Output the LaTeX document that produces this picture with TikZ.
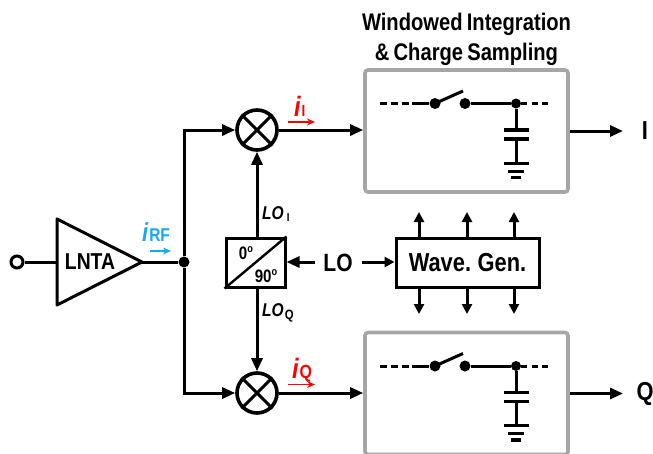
\documentclass[tikz,border=0pt]{standalone}
\usepackage{fontspec}
\setmainfont{Liberation Sans}[FakeStretch=0.84,WordSpace=0.75]
\usetikzlibrary{arrows.meta}
\definecolor{boxgray}{RGB}{166,166,166}
\definecolor{rfblue}{RGB}{20,170,235}
\definecolor{ired}{RGB}{255,0,0}
\tikzset{
  wire/.style={line width=3pt,line join=miter},
  arr/.style={wire,-{Triangle[width=11pt,length=13pt]}},
  smallarr/.style={wire,-{Triangle[width=10pt,length=10pt]}},
  blockbox/.style={draw,line width=3pt,inner sep=0pt},
  graybox/.style={draw=boxgray,line width=3.6pt,rounded corners=3pt,inner sep=0pt,minimum width=203pt,minimum height=122pt},
  mixer/.style={draw,circle,line width=3.6pt,minimum size=40pt,inner sep=0pt},
  dotnode/.style={fill,circle,inner sep=0pt,minimum size=#1},
  txt/.style={font=\bfseries\fontsize{#1}{#1}\selectfont,inner sep=0pt},
  itxt/.style={font=\bfseries\itshape\fontsize{#1}{#1}\selectfont,inner sep=0pt},
  cur/.style={line width=1.5pt,-{Stealth[width=7pt,length=8pt]}},
}
\begin{document}
\begin{tikzpicture}[x=1pt,y=-1pt]
\useasboundingbox (0,0) rectangle (653,453);
% input and LNTA
\node[draw,circle,line width=3pt,minimum size=12pt,inner sep=0pt] (in) at (17,262) {};
\coordinate (ta) at (57,219);
\coordinate (tb) at (57,305);
\coordinate (tc) at (142,262);
\coordinate (tin) at (57,262);
\draw[line width=3pt,line join=round] (ta) -- (tc) -- (tb) -- cycle;
\node[txt=23] (lnta) at (90,262) {LNTA};
\node[dotnode=11pt] (j) at (184,262) {};
\draw[wire] (in) -- (tin);
\draw[wire] (tc) -- (j);
% mixers
\node[mixer] (mi) at (257,130) {};
\node[mixer] (mq) at (257,393) {};
\draw[line width=3pt] (mi.north west) -- (mi.south east) (mi.north east) -- (mi.south west);
\draw[line width=3pt] (mq.north west) -- (mq.south east) (mq.north east) -- (mq.south west);
\coordinate (ct) at (184,130);
\coordinate (cb) at (184,393);
\draw[arr] (j) -- (ct) -- (mi);
\draw[arr] (j) -- (cb) -- (mq);
% splitter
\node[blockbox,minimum width=59pt,minimum height=49pt] (sp) at (255.5,262.5) {};
\draw[line width=2.4pt] (sp.south west) -- (sp.north east);
\node[txt=18] (d0) at (246,253) {0\raisebox{0.42em}{\fontsize{11}{11}\selectfont o}};
\node[txt=18] (d90) at (266,276) {90\raisebox{0.42em}{\fontsize{11}{11}\selectfont o}};
\draw[arr] (sp.north -| mi) -- (mi);
\draw[arr] (sp.south -| mq) -- (mq);
\node[itxt=18.5,anchor=west] (loi) at (262,214) {LO\hspace{3pt}\raisebox{-1.5pt}{\fontsize{11.5}{11.5}\selectfont\upshape I}};
\node[itxt=18.5,anchor=west] (loq) at (262,313) {LO\hspace{1pt}\raisebox{-2.5pt}{\fontsize{13.5}{13.5}\selectfont\upshape Q}};
% LO
\node[txt=25] (lo) at (338,263) {LO};
\node[blockbox,minimum width=143pt,minimum height=49pt] (wg) at (467.5,262.5) {};
\node[txt=26] (wgt) at (467.5,262.5) {Wave. Gen.};
\draw[arr] (lo) ++(-23,-1) coordinate (lol) -- (sp.east |- lol);
\draw[smallarr] (lo) ++(24,-1) coordinate (lor) -- (wg.west |- lor);
\foreach \n/\x in {a/419,b/467,c/514}{
  \coordinate (u\n) at (\x,212);
  \coordinate (d\n) at (\x,314);
  \coordinate (wt\n) at (\x,238);
  \coordinate (wb\n) at (\x,287);
  \draw[smallarr] (wt\n) -- (u\n);
  \draw[smallarr] (wb\n) -- (d\n);
}
% sampling blocks
\foreach \n/\o in {a/0,b/262.5}{
  \begin{scope}[yshift=-\o pt]
  \node[graybox] (g\n) at (466.5,131) {};
  \coordinate (wl\n) at (380,103.5);
  \coordinate (ws\n) at (412,103.5);
  \node[dotnode=11pt] (sl\n) at (435,103.5) {};
  \node[dotnode=11pt] (sr\n) at (465,103.5) {};
  \node[dotnode=10pt] (cn\n) at (516,103.5) {};
  \coordinate (wr\n) at (551,103.5);
  \coordinate (sw\n) at (463,91);
  \draw[line width=3pt,dash pattern=on 6.5pt off 4.5pt] (wl\n) -- (ws\n);
  \draw[wire] (ws\n) -- (sl\n);
  \draw[wire] (sl\n.center) -- (sw\n);
  \draw[wire] (sr\n) -- (cn\n);
  \draw[line width=3pt,dash pattern=on 6pt off 4.5pt] (cn\n) -- (wr\n);
  \coordinate (p1\n) at (516,130);
  \coordinate (p2\n) at (516,139);
  \coordinate (gn\n) at (516,163);
  \draw[wire] (cn\n) -- (p1\n);
  \draw[wire] (p2\n) -- (gn\n);
  \draw[line width=3.6pt] (503.5,130) -- (528.5,130);
  \draw[line width=3.6pt] (503.5,139) -- (528.5,139);
  \draw[line width=3pt] (503.5,163) -- (528.5,163);
  \draw[line width=3pt] (508,171) -- (524,171);
  \draw[line width=3.6pt] (511,177.5) -- (521,177.5);
  \end{scope}
}
\draw[arr] (mi) -- (ga.west |- mi);
\draw[arr] (mq) -- (gb.west |- mq);
\coordinate (oi) at (623,131);
\coordinate (oq) at (623,393.5);
\draw[arr] (ga.east |- oi) -- (oi);
\draw[arr] (gb.east |- oq) -- (oq);
\node[txt=26] (ti) at (645,131) {I};
\node[txt=26] (tq) at (645,394) {Q};
% title
\node[font=\bfseries\fontsize{24}{30}\selectfont,inner sep=0pt,align=center] (title) at (466.5,39) {Windowed Integration\\\& Charge Sampling};
% current labels
\node[itxt=26,text=rfblue,anchor=base west] (irf) at (142,241) {i\kern1pt\raisebox{0pt}{\fontsize{18.5}{18.5}\selectfont\upshape RF}};
\coordinate (ra) at (150,251);
\coordinate (rb) at (171,251);
\draw[cur,rfblue] (ra) -- (rb);
\node[itxt=28,text=ired,anchor=base west] (ii) at (294,116) {i\kern1pt\raisebox{0pt}{\fontsize{16}{16}\selectfont\upshape I}};
\coordinate (iia) at (288,122);
\coordinate (iib) at (315,122);
\draw[cur,ired] (iia) -- (iib);
\node[itxt=28,text=ired,anchor=base west] (iq) at (292,378) {i\kern1pt\raisebox{0pt}{\fontsize{19}{19}\selectfont\upshape Q}};
\coordinate (iqa) at (288,384.5);
\coordinate (iqb) at (315,384.5);
\draw[cur,ired] (iqa) -- (iqb);
\end{tikzpicture}
\end{document}
